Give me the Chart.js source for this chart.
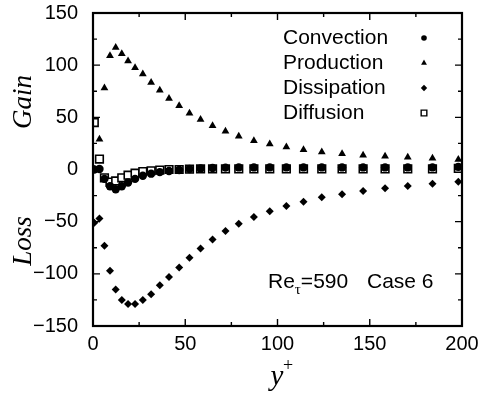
<!DOCTYPE html>
<html>
<head>
<meta charset="utf-8">
<script src="https://cdn.jsdelivr.net/npm/chart.js@4.4.1/dist/chart.umd.min.js"></script>
<style>
  html, body { margin: 0; padding: 0; background: #fff; }
  canvas { display: block; }
</style>
</head>
<body>
<canvas id="budget" width="487" height="394"></canvas>
<script>
// y+ positions of the samples (shared by all four terms)
var yPlus = [0.7, 3.5, 6.2, 9.2, 12.3, 15.6, 19.0, 22.8, 27.0, 31.5, 36.2, 41.2, 46.7, 52.3, 58.3,
             64.8, 71.8, 79.0, 87.2, 95.8, 104.8, 114.1, 124.0, 135.0, 146.4, 158.3, 170.6, 184.0, 198.0];

var convection  = [0, 0.5, -9, -16, -19, -16, -12.5, -9, -6, -4, -2.5, -1.5, -0.5, 0.5, 1,
                   1.5, 1.8, 2, 2, 2, 2, 2, 2, 2, 2, 2, 2, 2, 2.5];
var production  = [0, 29, 78, 109, 117, 111, 104, 97.5, 91.5, 83.5, 76, 68, 61, 54, 48,
                   42, 36.6, 31.8, 27.6, 24.4, 21.6, 19, 16.8, 15.2, 13.6, 12.6, 11.7, 10.7, 9.7];
var dissipation = [-51, -47, -73, -97, -115, -125, -129, -129, -125, -119.5, -111, -103, -94, -84.5, -75.6,
                   -67, -59, -52, -45.5, -40, -35, -30.8, -26.7, -23.8, -20.6, -18, -15.8, -13.6, -11.7];
var diffusion   = [45, 10, -8, -12, -11, -8, -5.5, -3.5, -2, -1.2, -0.5, 0, 0, 0.3, 0.5,
                   0.5, 0.5, 0.5, 0.5, 0.5, 0.5, 0.5, 0.5, 0.5, 0.5, 0.5, 0.5, 0.5, 1];

var labels = ['Convection', 'Production', 'Dissipation', 'Diffusion'];
var xTicks = [0, 50, 100, 150, 200];
var yTicks = [-150, -100, -50, 0, 50, 100, 150];

var sans = '"Liberation Sans", Arial, sans-serif';
var serif = '"Liberation Serif", "Times New Roman", serif';

function pts(vals) {
  return yPlus.map(function(x, i) { return {x: x, y: vals[i]}; });
}

// marker style per series, same order as labels
var styles = [
  {pointStyle: 'circle',   radius: 4.2, bg: '#000', lw: 0,   legendR: 2.8},
  {pointStyle: 'triangle', radius: 4.5, bg: '#000', lw: 0,   legendR: 3.4},
  {pointStyle: 'rectRot',  radius: 4.0, bg: '#000', lw: 0,   legendR: 3.2},
  {pointStyle: 'rect',     radius: 5.4, bg: '#fff', lw: 1.6, legendR: 4.0}
];
var series = [convection, production, dissipation, diffusion];

var datasets = series.map(function(vals, i) {
  var s = styles[i];
  return {
    label: labels[i],
    data: pts(vals),
    showLine: false,
    pointStyle: s.pointStyle,
    pointRadius: s.radius,
    pointBackgroundColor: s.bg,
    pointBorderColor: '#000',
    pointBorderWidth: s.lw
  };
});

// box, inward ticks, axis titles, legend and annotation
var decor = {
  id: 'decor',
  afterDraw: function(chart) {
    var ctx = chart.ctx, a = chart.chartArea;
    var xs = chart.scales.x, ys = chart.scales.y;
    ctx.save();
    ctx.strokeStyle = '#000';

    ctx.lineWidth = 1.4;
    for (var v = 0; v <= 200; v += 25) {
      var px = xs.getPixelForValue(v), len = v % 50 === 0 ? 7 : 4;
      ctx.beginPath();
      ctx.moveTo(px, a.bottom); ctx.lineTo(px, a.bottom - len);
      ctx.moveTo(px, a.top); ctx.lineTo(px, a.top + len);
      ctx.stroke();
    }
    for (var w = -150; w <= 150; w += 25) {
      var py = ys.getPixelForValue(w), l2 = w % 50 === 0 ? 7 : 4;
      ctx.beginPath();
      ctx.moveTo(a.left, py); ctx.lineTo(a.left + l2, py);
      ctx.moveTo(a.right, py); ctx.lineTo(a.right - l2, py);
      ctx.stroke();
    }
    ctx.lineWidth = 2.2;
    ctx.strokeRect(a.left, a.top, a.right - a.left, a.bottom - a.top);

    // axis titles
    ctx.fillStyle = '#000';
    ctx.textAlign = 'center';
    ctx.textBaseline = 'middle';
    ctx.font = 'italic 27px ' + serif;
    ctx.save();
    ctx.translate(24, 102); ctx.rotate(-Math.PI / 2); ctx.fillText('Gain', 0, 0);
    ctx.restore();
    ctx.save();
    ctx.translate(24, 241); ctx.rotate(-Math.PI / 2); ctx.fillText('Loss', 0, 0);
    ctx.restore();

    ctx.textBaseline = 'alphabetic';
    ctx.font = 'italic 29px ' + serif;
    ctx.fillText('y', 277, 385);
    ctx.font = '18px ' + serif;
    ctx.fillText('+', 288, 371);

    // legend: text left, marker right
    ctx.textAlign = 'left';
    ctx.textBaseline = 'middle';
    ctx.font = '21px ' + sans;
    labels.forEach(function(lab, i) {
      var y = 38 + i * 25;
      ctx.fillStyle = '#000';
      ctx.fillText(lab, 283, y);
      var s = styles[i];
      ctx.fillStyle = s.bg;
      ctx.strokeStyle = '#000';
      ctx.lineWidth = s.lw ? 1.4 : 0.01;
      Chart.helpers.drawPoint(ctx, {pointStyle: s.pointStyle, radius: s.legendR, rotation: 0, borderWidth: ctx.lineWidth}, 424, y);
    });

    // annotation
    ctx.fillStyle = '#000';
    ctx.textBaseline = 'alphabetic';
    ctx.font = '21px ' + sans;
    var x0 = 268;
    ctx.fillText('Re', x0, 288);
    x0 += ctx.measureText('Re').width;
    ctx.font = '15px ' + serif;
    ctx.fillText('\u03c4', x0, 294);
    x0 += ctx.measureText('\u03c4').width;
    ctx.font = '21px ' + sans;
    ctx.fillText('=590', x0, 288);
    ctx.fillText('Case 6', 367, 288);
    ctx.restore();
  }
};

new Chart(document.getElementById('budget').getContext('2d'), {
  type: 'scatter',
  data: { datasets: datasets },
  options: {
    animation: false,
    responsive: false,
    devicePixelRatio: 1,
    layout: { padding: { left: 0, right: 25, top: 13, bottom: 0 } },
    plugins: { legend: { display: false }, tooltip: { enabled: false } },
    scales: {
      x: {
        type: 'linear', min: 0, max: 200,
        afterBuildTicks: function(s) { s.ticks = xTicks.map(function(v) { return {value: v}; }); },
        afterFit: function(s) { s.height = 68; s.paddingLeft = 0; s.paddingRight = 0; },
        grid: { display: false, drawTicks: false },
        border: { display: false },
        ticks: { color: '#000', padding: 6, maxRotation: 0, font: { family: sans, size: 20 } }
      },
      y: {
        type: 'linear', min: -150, max: 150,
        afterBuildTicks: function(s) { s.ticks = yTicks.map(function(v) { return {value: v}; }); },
        afterFit: function(s) { s.width = 93; s.paddingTop = 0; s.paddingBottom = 0; },
        grid: { display: false, drawTicks: false },
        border: { display: false },
        ticks: {
          color: '#000', padding: 15, font: { family: sans, size: 20 },
          callback: function(v) { return v < 0 ? '\u2212' + Math.abs(v) : String(v); }
        }
      }
    }
  },
  plugins: [decor]
});
</script>
</body>
</html>
